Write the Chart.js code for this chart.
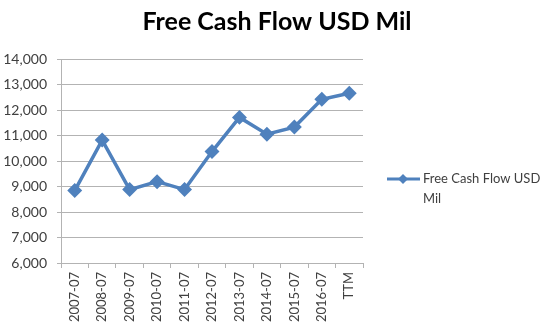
<!DOCTYPE html>
<html>
<head>
<meta charset="utf-8">
<script src="https://cdn.jsdelivr.net/npm/chart.js@4/dist/chart.umd.min.js"></script>
<style>
  html, body { margin: 0; padding: 0; background: #fff; }
  #wrap { width: 554px; height: 326px; position: relative; }
</style>
</head>
<body>
<div id="wrap"><canvas id="fcfChart"></canvas></div>
<script>
// data
const periods = ["2007-07","2008-07","2009-07","2010-07","2011-07","2012-07","2013-07","2014-07","2015-07","2016-07","TTM"];
const freeCashFlow = [8840, 10820, 8880, 9190, 8880, 10370, 11710, 11050, 11330, 12420, 12660];
const yTicks = [6000, 7000, 8000, 9000, 10000, 11000, 12000, 13000, 14000];
const seriesName = "Free Cash Flow USD Mil";

const lineBlue = "#4f81bd";
const gridGrey = "#b3b3b3";
const textGrey = "#404040";
const fontFam = "Lato, 'Liberation Sans', sans-serif";

// title centred on the whole picture + legend on the right, wrapped on two lines
const sideBits = {
  id: "sideBits",
  afterDraw(chart) {
    const ctx = chart.ctx;
    const ds = chart.data.datasets[0];
    ctx.save();
    ctx.fillStyle = "#000";
    ctx.font = "bold 25px " + fontFam;
    ctx.textAlign = "center";
    ctx.textBaseline = "middle";
    ctx.fillText(seriesName, chart.width / 2, 22);

    const x0 = 387, y0 = 179;
    ctx.strokeStyle = ds.borderColor;
    ctx.lineWidth = 3;
    ctx.beginPath();
    ctx.moveTo(x0, y0);
    ctx.lineTo(x0 + 33, y0);
    ctx.stroke();
    ctx.fillStyle = ds.borderColor;
    ctx.beginPath();
    ctx.moveTo(x0 + 16, y0 - 5); ctx.lineTo(x0 + 21, y0); ctx.lineTo(x0 + 16, y0 + 5); ctx.lineTo(x0 + 11, y0);
    ctx.closePath(); ctx.fill();
    ctx.fillStyle = textGrey;
    ctx.font = "13px " + fontFam;
    ctx.textAlign = "left";
    const words = ds.label.split(" ");
    ctx.fillText(words.slice(0, 4).join(" "), x0 + 36, y0);
    ctx.fillText(words.slice(4).join(" "), x0 + 36, y0 + 20);
    ctx.restore();
  }
};

new Chart(document.getElementById("fcfChart"), {
  type: "line",
  data: {
    labels: periods,
    datasets: [{
      label: seriesName,
      data: freeCashFlow,
      borderColor: lineBlue,
      backgroundColor: lineBlue,
      borderWidth: 3.5,
      pointStyle: "rectRot",
      pointRadius: 5,
      pointHoverRadius: 5,
      tension: 0,
      fill: false
    }]
  },
  options: {
    responsive: true,
    maintainAspectRatio: false,
    animation: false,
    layout: { padding: { left: 0, right: 191, top: 59, bottom: 0 } },
    plugins: {
      legend: { display: false },
      tooltip: { enabled: false },
      title: { display: false }
    },
    scales: {
      x: {
        offset: true,
        grid: { offset: true, drawOnChartArea: false, drawTicks: true, tickLength: 5, color: gridGrey },
        border: { color: gridGrey },
        ticks: {
          color: textGrey,
          font: { family: fontFam, size: 13 },
          minRotation: 90,
          maxRotation: 90,
          autoSkip: false,
          padding: 4
        },
        afterFit(s) { s.height = 63; }
      },
      y: {
        min: 6000,
        max: 14000,
        afterBuildTicks(s) { s.ticks = yTicks.map(v => ({ value: v })); },
        grid: { color: gridGrey, tickLength: 4, lineWidth: 1 },
        border: { color: gridGrey },
        ticks: {
          color: textGrey,
          font: { family: fontFam, size: 14 },
          padding: 10,
          callback: v => v.toLocaleString("en-US")
        },
        afterFit(s) { s.width = 61; }
      }
    }
  },
  plugins: [sideBits]
});
</script>
</body>
</html>
